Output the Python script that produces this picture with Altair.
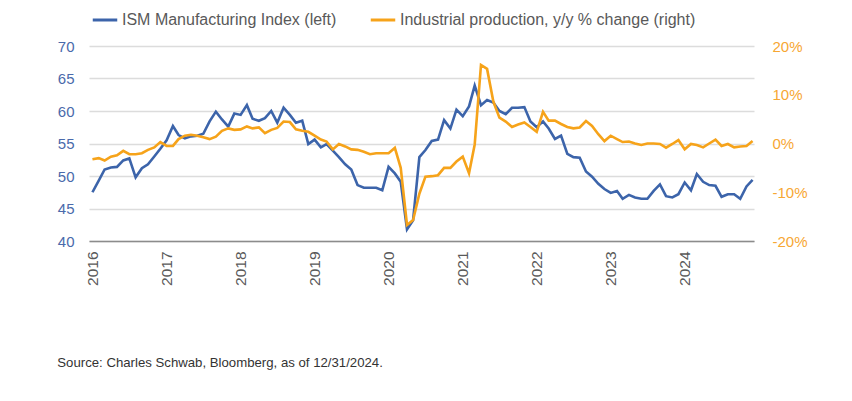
import altair as alt
import pandas as pd

# Monthly observations, Jan 2016 - Dec 2024
start_month = "2016-01-01"
ism_index = [
    47.5, 49.3, 51.0, 51.3, 51.4, 52.4, 52.7, 49.8, 51.2, 51.8, 53.0, 54.2,
    55.5, 57.7, 56.3, 55.8, 56.1, 56.2, 56.5, 58.4, 59.9, 58.7, 57.6, 59.6,
    59.4, 60.9, 58.8, 58.5, 58.9, 60.0, 58.2, 60.5, 59.4, 58.2, 58.5, 54.9,
    55.6, 54.4, 54.9, 53.9, 52.9, 51.8, 51.0, 48.6, 48.2, 48.2, 48.2, 47.8,
    51.4, 50.4, 49.1, 41.8, 43.2, 52.9, 54.0, 55.4, 55.6, 58.6, 57.3, 60.2,
    59.2, 60.7, 63.9, 60.9, 61.7, 61.3, 60.0, 59.5, 60.5, 60.5, 60.6, 58.4,
    57.5, 58.4, 57.3, 55.7, 56.2, 53.4, 52.9, 52.8, 50.7, 49.9, 48.8, 48.0,
    47.4, 47.7, 46.5, 47.1, 46.7, 46.5, 46.5, 47.7, 48.7, 46.9, 46.7, 47.2,
    49.0, 47.8, 50.3, 49.1, 48.6, 48.5, 46.8, 47.2, 47.2, 46.5, 48.4, 49.4,
]
industrial_production_yoy = [
    -3.25, -3.0, -3.5, -2.7, -2.4, -1.5, -2.2, -2.2, -2.0, -1.3, -0.8, 0.3,
    -0.5, -0.5, 0.9, 1.6, 1.8, 1.6, 1.3, 0.9, 1.4, 2.6, 3.1, 2.8,
    2.9, 3.5, 3.1, 3.3, 2.1, 2.8, 3.2, 4.5, 4.4, 2.9, 2.6, 2.4,
    1.6, 0.8, 0.4, -1.2, -0.1, -0.6, -1.2, -1.3, -1.7, -2.2, -2.0, -2.0,
    -2.0, -0.9, -5.0, -16.7, -15.7, -10.3, -6.8, -6.7, -6.5, -5.0, -5.0, -3.7,
    -2.7, -6.1, -0.2, 16.1, 15.3, 8.6, 5.3, 4.5, 3.4, 3.9, 4.3, 3.4,
    2.4, 6.5, 4.7, 4.7, 4.0, 3.4, 3.1, 3.3, 4.6, 3.6, 1.9, 0.5,
    1.6, 0.9, 0.3, 0.4, 0.0, -0.3, 0.0, 0.0, -0.1, -0.85, -0.1, 0.7,
    -1.2, -0.1, -0.3, -0.8, 0.0, 0.8, -0.5, -0.1, -0.8, -0.6, -0.5, 0.5,
]
left_ticks = [40, 45, 50, 55, 60, 65, 70]
right_ticks = [-20, -10, 0, 10, 20]
years = list(range(2016, 2025))

ISM_LABEL = "ISM Manufacturing Index (left)"
IP_LABEL = "Industrial production, y/y % change (right)"
SOURCE = "Source: Charles Schwab, Bloomberg, as of 12/31/2024."

BLUE = "#3c64aa"
ORANGE = "#f6a31a"
FONT = "Liberation Sans"

df = pd.DataFrame({
    "date": pd.date_range(start_month, periods=len(ism_index), freq="MS"),
    "ism": ism_index,
    "ip": industrial_production_yoy,
})

color_scale = alt.Scale(domain=[ISM_LABEL, IP_LABEL], range=[BLUE, ORANGE])
color_enc = alt.Color("series:N", scale=color_scale, legend=alt.Legend(title=None))

x_enc = alt.X(
    "date:T",
    scale=alt.Scale(domain=[alt.DateTime(year=2015, month=12, date=15),
                            alt.DateTime(year=2024, month=12, date=8)]),
    axis=alt.Axis(
        values=[alt.DateTime(year=y, month=1, date=1) for y in years],
        format="%Y", labelAngle=270, labelAlign="right", labelBaseline="middle",
        labelFontSize=15.5, labelColor="#595959", labelFont=FONT, labelPadding=10,
        ticks=False, grid=False, domain=True, domainColor="#8c8c8c",
        domainWidth=1.5, title=None, zindex=1,
    ),
)

base = alt.Chart(df)

ism_line = base.mark_line(strokeWidth=2.6).transform_calculate(
    series=f"'{ISM_LABEL}'"
).encode(
    x=x_enc,
    y=alt.Y("ism:Q", scale=alt.Scale(domain=[40, 70]),
            axis=alt.Axis(values=left_ticks, orient="left", grid=True,
                          gridColor="#dcdcdc", gridWidth=1.5, domain=False,
                          ticks=False, labelColor="#4a6aab", labelFontSize=15,
                          labelFont=FONT, labelPadding=15, title=None)),
    color=color_enc,
)

ip_line = base.mark_line(strokeWidth=2.6).transform_calculate(
    series=f"'{IP_LABEL}'"
).encode(
    x=x_enc,
    y=alt.Y("ip:Q", scale=alt.Scale(domain=[-20, 20]),
            axis=alt.Axis(values=right_ticks, orient="right", grid=False,
                          domain=False, ticks=False, labelColor="#f7a733",
                          labelFontSize=15, labelFont=FONT, labelPadding=18,
                          labelExpr="datum.value + '%'", title=None)),
    color=color_enc,
)

chart = (
    alt.layer(ism_line, ip_line)
    .resolve_scale(y="independent")
    .properties(
        width=665, height=195,
        autosize=alt.AutoSizeParams(type="none"),
        padding={"left": 81, "top": 38, "right": 80, "bottom": 135},
        title=alt.TitleParams(SOURCE, orient="bottom", anchor="start",
                              frame="bounds", fontSize=13.2, fontWeight="normal",
                              font=FONT, color="#333333", offset=72),
    )
    .configure_view(stroke=None)
    .configure_legend(
        orient="none", legendX=2, legendY=-40, direction="horizontal",
        symbolType="stroke", symbolStrokeWidth=3, symbolSize=600,
        labelFontSize=16, labelColor="#595959", labelFont=FONT, labelLimit=0,
        labelOffset=3, columnPadding=27, padding=0,
    )
)

chart.save("out.html", embed_options={"renderer": "svg", "actions": False})
